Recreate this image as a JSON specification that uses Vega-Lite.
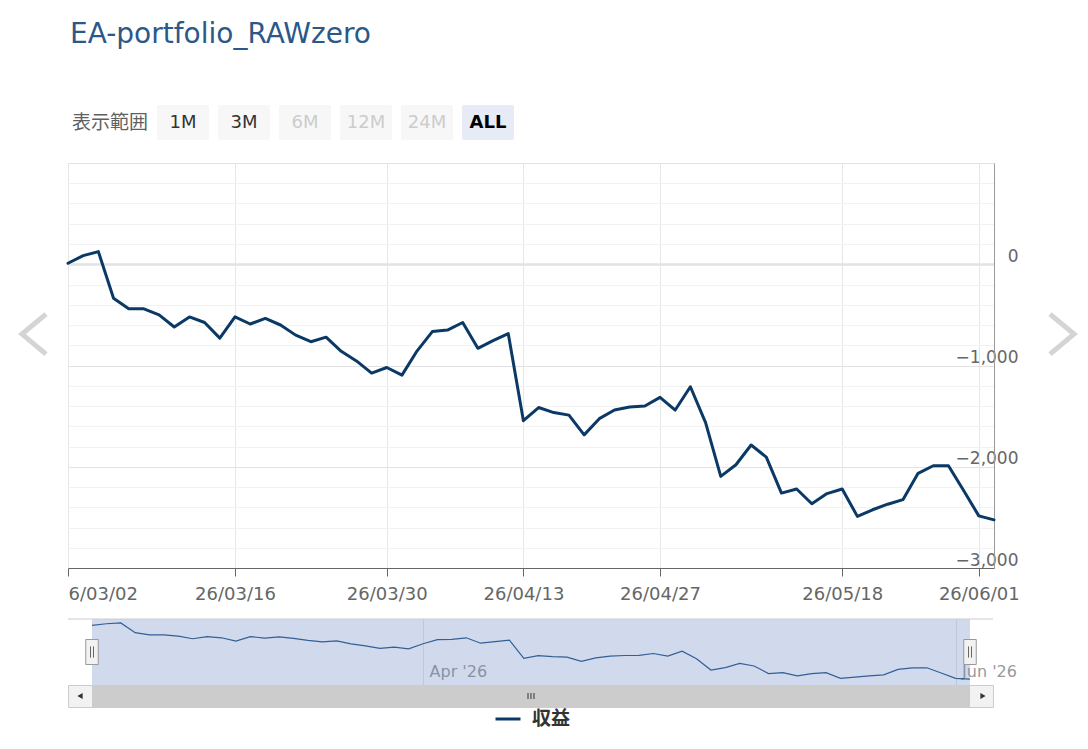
{
  "$schema": "https://vega.github.io/schema/vega-lite/v6.json",
  "background": "white",
  "padding": {"left": 12, "top": 21, "right": 5, "bottom": 5},
  "title": {
    "text": "EA-portfolio_RAWzero",
    "anchor": "start",
    "frame": "group",
    "font": "DejaVu Sans",
    "fontSize": 28,
    "fontWeight": "normal",
    "color": "#2b5887",
    "offset": 56,
    "dx": 2
  },
  "datasets": {
    "pnl": [
      {"date": "26/03/02", "pnl": 10},
      {"date": "26/03/03", "pnl": 85},
      {"date": "26/03/04", "pnl": 125},
      {"date": "26/03/05", "pnl": -335},
      {"date": "26/03/06", "pnl": -440},
      {"date": "26/03/07", "pnl": -440},
      {"date": "26/03/09", "pnl": -500},
      {"date": "26/03/10", "pnl": -620},
      {"date": "26/03/11", "pnl": -520},
      {"date": "26/03/12", "pnl": -575},
      {"date": "26/03/13", "pnl": -730},
      {"date": "26/03/16", "pnl": -520},
      {"date": "26/03/17", "pnl": -590},
      {"date": "26/03/18", "pnl": -535},
      {"date": "26/03/19", "pnl": -600},
      {"date": "26/03/20", "pnl": -700},
      {"date": "26/03/23", "pnl": -765},
      {"date": "26/03/24", "pnl": -720},
      {"date": "26/03/25", "pnl": -860},
      {"date": "26/03/26", "pnl": -955},
      {"date": "26/03/27", "pnl": -1075},
      {"date": "26/03/30", "pnl": -1020},
      {"date": "26/03/31", "pnl": -1095},
      {"date": "26/04/01", "pnl": -855},
      {"date": "26/04/02", "pnl": -665},
      {"date": "26/04/06", "pnl": -650},
      {"date": "26/04/07", "pnl": -575},
      {"date": "26/04/08", "pnl": -830},
      {"date": "26/04/09", "pnl": -755},
      {"date": "26/04/10", "pnl": -685},
      {"date": "26/04/13", "pnl": -1545},
      {"date": "26/04/14", "pnl": -1415},
      {"date": "26/04/15", "pnl": -1465},
      {"date": "26/04/16", "pnl": -1490},
      {"date": "26/04/20", "pnl": -1685},
      {"date": "26/04/21", "pnl": -1525},
      {"date": "26/04/22", "pnl": -1440},
      {"date": "26/04/23", "pnl": -1410},
      {"date": "26/04/24", "pnl": -1400},
      {"date": "26/04/27", "pnl": -1315},
      {"date": "26/04/28", "pnl": -1440},
      {"date": "26/04/30", "pnl": -1210},
      {"date": "26/05/01", "pnl": -1565},
      {"date": "26/05/06", "pnl": -2095},
      {"date": "26/05/07", "pnl": -1980},
      {"date": "26/05/08", "pnl": -1785},
      {"date": "26/05/11", "pnl": -1905},
      {"date": "26/05/12", "pnl": -2260},
      {"date": "26/05/13", "pnl": -2220},
      {"date": "26/05/14", "pnl": -2365},
      {"date": "26/05/15", "pnl": -2265},
      {"date": "26/05/18", "pnl": -2220},
      {"date": "26/05/19", "pnl": -2490},
      {"date": "26/05/20", "pnl": -2425},
      {"date": "26/05/21", "pnl": -2370},
      {"date": "26/05/22", "pnl": -2325},
      {"date": "26/05/26", "pnl": -2065},
      {"date": "26/05/27", "pnl": -1990},
      {"date": "26/05/28", "pnl": -1990},
      {"date": "26/05/29", "pnl": -2235},
      {"date": "26/06/01", "pnl": -2485},
      {"date": "26/06/02", "pnl": -2525}
    ],
    "buttons": [
      {"label": "表示範囲", "kind": "caption"},
      {"label": "1M", "kind": "normal"},
      {"label": "3M", "kind": "normal"},
      {"label": "6M", "kind": "disabled"},
      {"label": "12M", "kind": "disabled"},
      {"label": "24M", "kind": "disabled"},
      {"label": "ALL", "kind": "selected"}
    ]
  },
  "bounds": "full",
  "spacing": 15,
  "vconcat": [
    {
      "bounds": "flush",
      "spacing": 23,
      "vconcat": [
        {
          "width": 926,
          "height": 35,
          "data": {"name": "buttons"},
          "view": {"stroke": null},
          "encoding": {
            "x": {
              "field": "label",
              "type": "nominal",
              "sort": null,
              "scale": {
                "type": "band",
                "domain": ["表示範囲", "1M", "3M", "6M", "12M", "24M", "ALL"],
                "range": [28, 446],
                "paddingInner": 0.1475,
                "paddingOuter": 0
              },
              "axis": null
            }
          },
          "layer": [
            {
              "transform": [{"filter": "datum.kind !== 'caption'"}],
              "mark": {"type": "rect", "cornerRadius": 2},
              "encoding": {
                "color": {
                  "condition": {"test": "datum.kind === 'selected'", "value": "#e6ebf5"},
                  "value": "#f7f7f7"
                }
              }
            },
            {
              "transform": [{"filter": "datum.kind === 'caption'"}],
              "mark": {"type": "text", "align": "right", "font": "Noto Sans CJK JP", "fontSize": 19, "color": "#5f5f5f"},
              "encoding": {
                "x": {"field": "label", "type": "nominal", "sort": null, "bandPosition": 1},
                "text": {"field": "label"}
              }
            },
            {
              "transform": [{"filter": "datum.kind === 'normal' || datum.kind === 'disabled'"}],
              "mark": {"type": "text", "font": "DejaVu Sans", "fontSize": 18},
              "encoding": {
                "text": {"field": "label"},
                "color": {
                  "condition": {"test": "datum.kind === 'disabled'", "value": "#cccccc"},
                  "value": "#333333"
                }
              }
            },
            {
              "transform": [{"filter": "datum.kind === 'selected'"}],
              "mark": {"type": "text", "font": "DejaVu Sans", "fontSize": 18, "fontWeight": "bold", "color": "#000000"},
              "encoding": {"text": {"field": "label"}}
            }
          ]
        },
        {
          "width": 926,
          "height": 405,
          "view": {"stroke": null},
          "encoding": {
            "x": {
              "field": "date",
              "type": "ordinal",
              "sort": null,
              "scale": {"type": "point", "padding": 0},
              "axis": {
                "title": null,
                "values": ["26/03/02", "26/03/16", "26/03/30", "26/04/13", "26/04/27", "26/05/18", "26/06/01"],
                "labelExpr": "datum.value === '26/03/02' ? '6/03/02' : datum.label",
                "labelAlign": {"condition": {"test": "datum.value === '26/03/02'", "value": "left"}, "value": "center"},
                "labelAngle": 0,
                "labelOverlap": false,
                "labelFont": "DejaVu Sans",
                "labelFontSize": 18,
                "labelColor": "#666666",
                "labelPadding": 9,
                "tickSize": 8,
                "tickColor": "#666666",
                "domainColor": "#666666",
                "grid": true,
                "gridColor": "#e6e6e6"
              }
            }
          },
          "layer": [
            {
              "data": {"name": "pnl"},
              "mark": {"type": "line", "strokeWidth": 3, "strokeJoin": "round", "strokeCap": "round"},
              "encoding": {
                "y": {
                  "field": "pnl",
                  "type": "quantitative",
                  "scale": {"domain": [-3000, 1000], "nice": false, "zero": false},
                  "axis": {
                    "title": null,
                    "orient": "right",
                    "values": [-3000, -2800, -2600, -2400, -2200, -2000, -1800, -1600, -1400, -1200, -1000, -800, -600, -400, -200, 0, 200, 400, 600, 800, 1000],
                    "tickCount": 30,
                    "format": ",.0f",
                    "labelExpr": "datum.value % 1000 === 0 && datum.value < 1000 ? datum.label : ''",
                    "labelOverlap": false,
                    "labelAlign": "right",
                    "labelBaseline": "alphabetic",
                    "labelPadding": 24,
                    "labelOffset": -3,
                    "labelFont": "DejaVu Sans",
                    "labelFontSize": 17,
                    "labelColor": "#666666",
                    "ticks": false,
                    "domainColor": "#999999",
                    "grid": true,
                    "gridColor": {"condition": {"test": "datum.value % 1000 === 0", "value": "#e2e2e2"}, "value": "#f2f2f2"},
                    "gridWidth": {"condition": {"test": "datum.value === 0", "value": 2.5}, "value": 1}
                  }
                },
                "color": {
                  "datum": "収益",
                  "type": "nominal",
                  "scale": {"range": ["#0b3966"]},
                  "legend": {
                    "title": null,
                    "orient": "none",
                    "legendX": 426,
                    "legendY": 600,
                    "symbolType": "stroke",
                    "symbolStrokeWidth": 3,
                    "symbolSize": 625,
                    "labelFont": "Noto Sans CJK JP",
                    "labelFontSize": 19,
                    "labelFontWeight": "bold",
                    "labelColor": "#333333",
                    "labelOffset": 10
                  }
                }
              }
            },
            {
              "data": {"values": [{}]},
              "mark": {"type": "point", "shape": "M 0.6 -1 L -0.6 0 L 0.6 1", "size": 1600, "filled": false, "stroke": "#d4d4d4", "strokeWidth": 5, "opacity": 1, "xOffset": -34},
              "encoding": {
                "x": {"datum": "26/03/02", "type": "ordinal"},
                "y": {"datum": -690, "type": "quantitative"}
              }
            },
            {
              "data": {"values": [{}]},
              "mark": {"type": "point", "shape": "M -0.6 -1 L 0.6 0 L -0.6 1", "size": 1600, "filled": false, "stroke": "#d4d4d4", "strokeWidth": 5, "opacity": 1, "xOffset": 68},
              "encoding": {
                "x": {"datum": "26/06/02", "type": "ordinal"},
                "y": {"datum": -690, "type": "quantitative"}
              }
            }
          ]
        }
      ]
    },
    {
      "bounds": "flush",
      "spacing": 0,
      "resolve": {"scale": {"x": "independent"}},
      "vconcat": [
        {
          "width": 925,
          "height": 66,
          "view": {"stroke": null},
          "layer": [
            {
              "data": {"name": "pnl"},
              "mark": {"type": "line", "opacity": 0},
              "encoding": {
                "x": {
                  "field": "date",
                  "type": "ordinal",
                  "sort": null,
                  "scale": {"type": "point", "range": [24, 902], "padding": 0},
                  "axis": {
                    "title": null,
                    "values": ["26/04/01", "26/06/01"],
                    "labelExpr": "datum.value === '26/04/01' ? \"Apr '26\" : \"Jun '26\"",
                    "labelAlign": "left",
                    "labelBaseline": "alphabetic",
                    "labelAngle": 0,
                    "labelPadding": -9,
                    "labelOffset": 6,
                    "labelFont": "DejaVu Sans",
                    "labelFontSize": 16,
                    "labelColor": "#999999",
                    "labelOverlap": false,
                    "ticks": false,
                    "domain": false,
                    "grid": true,
                    "gridColor": "#e6e6e6"
                  }
                },
                "y": {"field": "pnl", "type": "quantitative", "scale": {"domain": [-2800, 310], "nice": false, "zero": false}, "axis": null}
              }
            },
            {
              "data": {"values": [{}]},
              "mark": {"type": "rect", "color": "rgb(102,133,194)", "opacity": 0.3},
              "encoding": {
                "x": {"datum": "26/03/02", "type": "ordinal"},
                "x2": {"datum": "26/06/02"}
              }
            },
            {
              "data": {"name": "pnl"},
              "mark": {"type": "line", "color": "#335f95", "strokeWidth": 1.2},
              "encoding": {
                "x": {"field": "date", "type": "ordinal", "sort": null},
                "y": {"field": "pnl", "type": "quantitative"}
              }
            },
            {
              "data": {"values": [{}]},
              "mark": {"type": "rule", "color": "#cccccc", "strokeWidth": 1},
              "encoding": {"y": {"datum": 310, "type": "quantitative"}}
            },
            {
              "data": {"values": [{}]},
              "mark": {"type": "point", "shape": "M -0.5 -1 H 0.5 V 1 H -0.5 Z", "size": 625, "filled": true, "fill": "#f2f2f2", "stroke": "#999999", "strokeWidth": 1, "opacity": 1},
              "encoding": {
                "x": {"datum": "26/03/02", "type": "ordinal"},
                "y": {"datum": -1245, "type": "quantitative"}
              }
            },
            {
              "data": {"values": [{}]},
              "mark": {"type": "point", "shape": "M -0.5 -1 H 0.5 V 1 H -0.5 Z", "size": 625, "filled": true, "fill": "#f2f2f2", "stroke": "#999999", "strokeWidth": 1, "opacity": 1},
              "encoding": {
                "x": {"datum": "26/06/02", "type": "ordinal"},
                "y": {"datum": -1245, "type": "quantitative"}
              }
            },
            {
              "data": {"values": [{}]},
              "mark": {"type": "point", "shape": "M -0.12 -0.45 V 0.45 M 0.12 -0.45 V 0.45", "size": 625, "filled": false, "stroke": "#666666", "strokeWidth": 1, "opacity": 1},
              "encoding": {
                "x": {"datum": "26/03/02", "type": "ordinal"},
                "y": {"datum": -1245, "type": "quantitative"}
              }
            },
            {
              "data": {"values": [{}]},
              "mark": {"type": "point", "shape": "M -0.12 -0.45 V 0.45 M 0.12 -0.45 V 0.45", "size": 625, "filled": false, "stroke": "#666666", "strokeWidth": 1, "opacity": 1},
              "encoding": {
                "x": {"datum": "26/06/02", "type": "ordinal"},
                "y": {"datum": -1245, "type": "quantitative"}
              }
            }
          ]
        },
        {
          "width": 925,
          "height": 22,
          "view": {"fill": "#f2f2f2", "stroke": "#cccccc"},
          "layer": [
            {
              "data": {"name": "pnl"},
              "mark": {"type": "point", "opacity": 0},
              "encoding": {
                "x": {
                  "field": "date",
                  "type": "ordinal",
                  "sort": null,
                  "scale": {"type": "point", "range": [24, 902], "padding": 0},
                  "axis": null
                }
              }
            },
            {
              "data": {"values": [{}]},
              "mark": {"type": "rect", "color": "#cccccc"},
              "encoding": {
                "x": {"datum": "26/03/02", "type": "ordinal"},
                "x2": {"datum": "26/06/02"}
              }
            },
            {
              "data": {"values": [{}]},
              "mark": {"type": "point", "shape": "triangle-left", "size": 36, "filled": true, "color": "#333333", "opacity": 1, "xOffset": -12},
              "encoding": {"x": {"datum": "26/03/02", "type": "ordinal"}}
            },
            {
              "data": {"values": [{}]},
              "mark": {"type": "point", "shape": "triangle-right", "size": 36, "filled": true, "color": "#333333", "opacity": 1, "xOffset": 13},
              "encoding": {"x": {"datum": "26/06/02", "type": "ordinal"}}
            },
            {
              "data": {"values": [{}]},
              "mark": {"type": "point", "shape": "M -0.6 -0.6 V 0.6 M 0 -0.6 V 0.6 M 0.6 -0.6 V 0.6", "size": 100, "filled": false, "stroke": "#333333", "strokeWidth": 1, "opacity": 1, "xOffset": 7.2},
              "encoding": {"x": {"datum": "26/04/13", "type": "ordinal"}}
            }
          ]
        }
      ]
    }
  ],
  "config": {
    "font": "DejaVu Sans",
    "view": {"stroke": null}
  }
}
